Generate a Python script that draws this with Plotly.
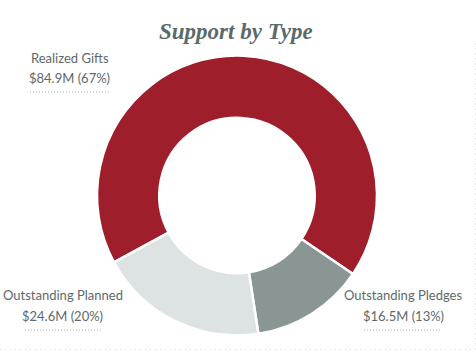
import plotly.graph_objects as go

W, H = 476, 352

labels = ["Realized Gifts", "Outstanding Pledges", "Outstanding Planned"]
values = [84.9, 16.5, 24.6]
pct_text = ["67%", "13%", "20%"]
colors = ["#9E1E2B", "#8A9694", "#DDE2E2"]
title = "Support by Type"

def px(x):
    return x / W

def py(y):
    return 1 - y / H

fig = go.Figure()
fig.add_trace(go.Pie(
    labels=labels, values=values, hole=0.555, sort=False,
    direction="clockwise", rotation=241.5,
    marker=dict(colors=colors, line=dict(color="white", width=2.5)),
    textinfo="none", hoverinfo="label+value+percent", showlegend=False,
    domain=dict(x=[px(97), px(377)], y=[py(335.5), py(55.5)]),
))

txt_color = "#5E696B"
font_lab = dict(family="Lato, 'Open Sans', sans-serif", size=13, color=txt_color)

# label positions: (center x, first-line y, second-line y, dotted line y, line x0, x1)
pos = {
    "Realized Gifts": (69.5, 58, 78, 92, 30, 109),
    "Outstanding Pledges": (403, 295, 316, 330, 364, 442),
    "Outstanding Planned": (62.5, 295, 316, 330, 25, 102),
}
for lab, val, pc in zip(labels, values, pct_text):
    cx, y1, y2, yl, x0, x1 = pos[lab]
    fig.add_annotation(x=px(cx), y=py(y1), xref="paper", yref="paper", text=lab,
                       showarrow=False, font=font_lab, xanchor="center", yanchor="middle")
    fig.add_annotation(x=px(cx), y=py(y2), xref="paper", yref="paper",
                       text=f"${val}M ({pc})",
                       showarrow=False, font=font_lab, xanchor="center", yanchor="middle")
    fig.add_shape(type="line", xref="paper", yref="paper", x0=px(x0), x1=px(x1),
                  y0=py(yl), y1=py(yl), line=dict(color="#A9B1B2", width=1, dash="1px,2px"))

# dotted frame lines (bottom and right)
fig.add_shape(type="line", xref="paper", yref="paper", x0=0, x1=px(475.5),
              y0=py(349.5), y1=py(349.5), line=dict(color="#D4D8D9", width=1, dash="1px,4px"))
fig.add_shape(type="line", xref="paper", yref="paper", x0=px(475.5), x1=px(475.5),
              y0=py(349.5), y1=py(40), line=dict(color="#D4D8D9", width=1, dash="1px,4px"))

fig.add_annotation(x=px(236), y=py(31), xref="paper", yref="paper",
                   text="<b><i>" + title + "</i></b>", showarrow=False,
                   font=dict(family="'Liberation Serif', 'DejaVu Serif', serif", size=23, color="#5B6A6A"),
                   xanchor="center", yanchor="middle")

fig.update_layout(width=W, height=H, margin=dict(l=0, r=0, t=0, b=0),
                  paper_bgcolor="white", plot_bgcolor="white")
fig.write_html("out.html")
